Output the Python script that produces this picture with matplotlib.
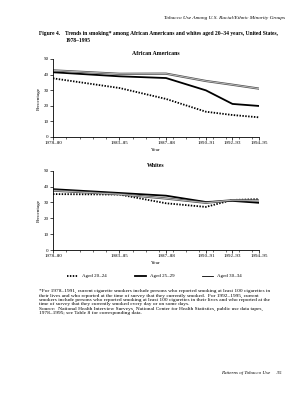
import matplotlib
matplotlib.use("Agg")
import matplotlib.pyplot as plt
from matplotlib.ticker import MultipleLocator
from matplotlib.lines import Line2D

plt.rcParams['font.family'] = ['Liberation Serif', 'DejaVu Serif']

# ---- data ----
years_mid = [1979, 1984, 1987.5, 1990.5, 1992.5, 1994.5]
tick_labels = ['1978–80', '1983–85', '1987–88', '1990–91', '1992–93', '1994–95']

aa_20_24 = [37.6, 31.4, 24.4, 16.2, 14.1, 12.6]
aa_25_29 = [41.5, 38.9, 37.8, 29.9, 21.2, 19.9]
aa_30_34 = [42.7, 40.5, 40.6, 35.9, 33.5, 31.0]

w_20_24 = [35.3, 35.0, 29.5, 27.2, 31.6, 32.1]
w_25_29 = [38.4, 36.0, 34.3, 30.3, 31.0, 29.8]
w_30_34 = [37.5, 35.2, 32.5, 29.8, 31.5, 31.3]

series_labels = ['Aged 20–24', 'Aged 25–29', 'Aged 30–34']

fig = plt.figure(figsize=(3.03, 4.00), dpi=100)

def style_axes(ax, title):
    for s in ['top', 'right']:
        ax.spines[s].set_visible(False)
    for s in ['left', 'bottom']:
        ax.spines[s].set_linewidth(0.6)
    ax.set_xlim(years_mid[0], years_mid[-1])
    ax.set_ylim(0, 50)
    ax.set_yticks(range(0, 51, 10))
    ax.set_xticks(years_mid)
    ax.set_xticklabels(tick_labels)
    ax.xaxis.set_minor_locator(MultipleLocator(1))
    ax.tick_params(axis='both', labelsize=3.6, length=2, width=0.5, pad=1)
    ax.tick_params(axis='x', which='minor', length=1.5, width=0.4)
    ax.set_ylabel('Percentage', fontsize=3.8, labelpad=2)
    ax.set_xlabel('Year', fontsize=3.8, labelpad=2)
    ax.set_title(title, fontsize=4.2, fontweight='bold', pad=3)

def draw(ax, a, b, c):
    ax.plot(years_mid, a, color='black', lw=1.3, linestyle=(0, (0.8, 0.8)))
    ax.plot(years_mid, b, color='black', lw=1.3)
    ax.plot(years_mid, c, color='#555555', lw=1.6)
    ax.plot(years_mid, c, color='#d8d8d8', lw=0.5)

ax1 = fig.add_axes([0.175, 0.6575, 0.68, 0.195])
draw(ax1, aa_20_24, aa_25_29, aa_30_34)
style_axes(ax1, 'African Americans')

ax2 = fig.add_axes([0.175, 0.375, 0.68, 0.198])
draw(ax2, w_20_24, w_25_29, w_30_34)
style_axes(ax2, 'Whites')

# legend
handles = [Line2D([], [], color='black', lw=1.3, linestyle=(0, (0.8, 0.8))),
           Line2D([], [], color='black', lw=1.3),
           Line2D([], [], color='black', lw=0.6)]
fig.legend(handles, series_labels, loc='center', bbox_to_anchor=(0.51, 0.31),
           ncol=3, frameon=False, fontsize=3.6, handlelength=2.2,
           columnspacing=5.5, handletextpad=0.8)

# page text
fig.text(0.94, 0.955, 'Tobacco Use Among U.S. Racial/Ethnic Minority Groups',
         ha='right', va='center', fontsize=3.8, style='italic')
fig.text(0.13, 0.915, 'Figure 4.', ha='left', va='center', fontsize=4.0, fontweight='bold')
fig.text(0.215, 0.915, 'Trends in smoking* among African Americans and whites aged 20–34 years, United States,',
         ha='left', va='center', fontsize=4.0, fontweight='bold')
fig.text(0.215, 0.899, '1978–1995', ha='left', va='center', fontsize=4.0, fontweight='bold')

foot = ("*For 1978–1991, current cigarette smokers include persons who reported smoking at least 100 cigarettes in\n"
        "their lives and who reported at the time of survey that they currently smoked.  For 1992–1995, current\n"
        "smokers include persons who reported smoking at least 100 cigarettes in their lives and who reported at the\n"
        "time of survey that they currently smoked every day or on some days.\n"
        "Source:  National Health Interview Surveys, National Center for Health Statistics, public use data tapes,\n"
        "1978–1995; see Table 8 for corresponding data.")
fig.text(0.13, 0.277, foot, ha='left', va='top', fontsize=3.9, linespacing=1.12)

fig.text(0.93, 0.067, 'Patterns of Tobacco Use     35', ha='right', va='center',
         fontsize=3.6, style='italic')

fig.savefig('out.png', dpi=100)
